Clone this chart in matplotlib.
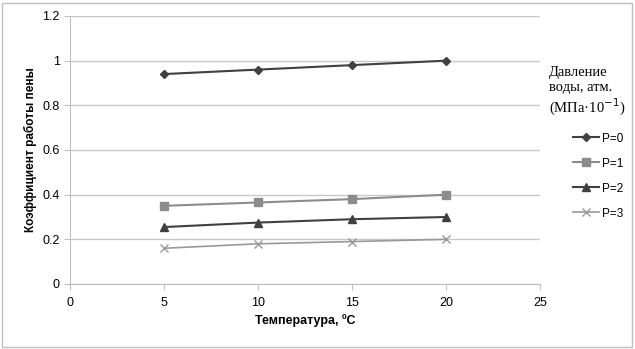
import matplotlib.pyplot as plt
from matplotlib.patches import Rectangle

# Data
temperature = [5, 10, 15, 20]
p0 = [0.94, 0.96, 0.98, 1.00]
p1 = [0.35, 0.365, 0.38, 0.40]
p2 = [0.255, 0.275, 0.29, 0.30]
p3 = [0.16, 0.18, 0.19, 0.20]
series_labels = ["P=0", "P=1", "P=2", "P=3"]

plt.rcParams['font.family'] = ['Liberation Sans', 'DejaVu Sans']

fig = plt.figure(figsize=(6.35, 3.49), dpi=100)
ax = fig.add_axes([70 / 635, 1 - 284 / 349, 470 / 635, 268 / 349])

dark = '#404040'
light = '#8c8c8c'
ax.plot(temperature, p0, color=dark, marker='D', markersize=4.5, lw=1.5, label=series_labels[0])
ax.plot(temperature, p1, color=light, marker='s', markersize=6, lw=1.5, label=series_labels[1])
ax.plot(temperature, p2, color=dark, marker='^', markersize=6, lw=1.5, label=series_labels[2])
ax.plot(temperature, p3, color='#999999', marker='x', markersize=6, lw=1.2, label=series_labels[3])

ax.set_xlim(0, 25)
ax.set_ylim(0, 1.2)
ax.set_xticks([0, 5, 10, 15, 20, 25])
ax.set_yticks([0, 0.2, 0.4, 0.6, 0.8, 1.0, 1.2])
ax.set_yticklabels(['0', '0.2', '0.4', '0.6', '0.8', '1', '1.2'])
ax.yaxis.grid(True, color='#c8c8c8', lw=1)
ax.set_axisbelow(True)
for s in ['top', 'right']:
    ax.spines[s].set_visible(False)
for s in ['left', 'bottom']:
    ax.spines[s].set_color('#bfbfbf')
ax.tick_params(axis='both', colors='#bfbfbf', labelcolor='black', labelsize=9, length=4)
ax.tick_params(axis='x', pad=5)

ax.set_xlabel('Температура, ºС', fontsize=9, fontweight='bold', labelpad=4)
ax.set_ylabel('Коэффициент работы пены', fontsize=8.5, fontweight='bold', labelpad=4)

fig.text(549 / 635, 1 - 66 / 349, 'Давление\nводы, атм.\n(МПа·10$^{-1}$)',
         family=['Liberation Serif', 'DejaVu Serif'], fontsize=10.5, va='top', ha='left',
         linespacing=1.2)
fig.legend(loc='upper left', bbox_to_anchor=(562 / 635, 1 - 122 / 349), frameon=False,
           fontsize=8.5, handlelength=2.2, labelspacing=1.1, handletextpad=0.25)

# outer chart border
fig.patches.append(Rectangle((2 / 635, 2 / 349), 630 / 635, 344 / 349, transform=fig.transFigure,
                             fill=False, edgecolor='#bfbfbf', lw=1))

fig.savefig('out.png', dpi=100)
